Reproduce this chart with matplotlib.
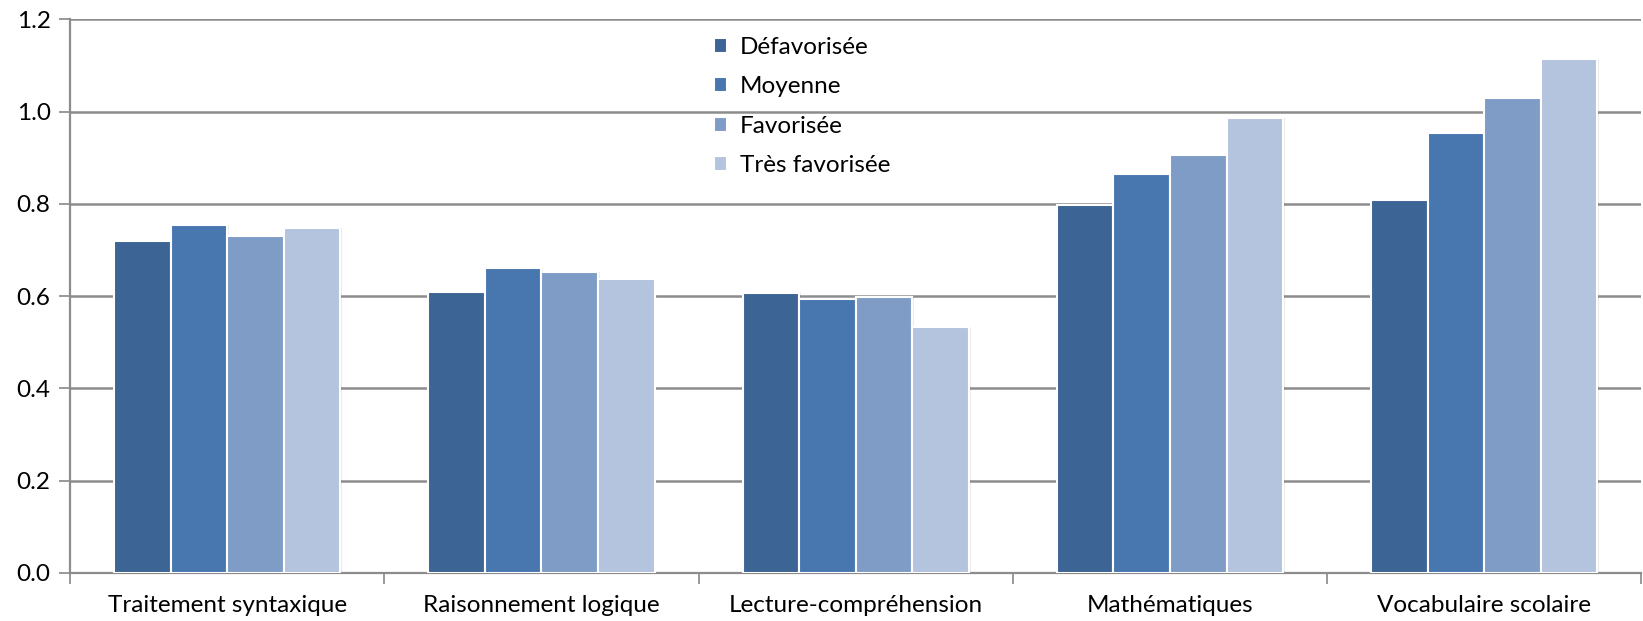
import matplotlib
matplotlib.use("Agg")
from matplotlib import pyplot as plt
import numpy as np

categories = ["Traitement syntaxique", "Raisonnement logique", "Lecture-compréhension",
              "Mathématiques", "Vocabulaire scolaire"]
series_names = ["Défavorisée", "Moyenne", "Favorisée", "Très favorisée"]
defavorisee = [0.720, 0.610, 0.608, 0.798, 0.809]
moyenne = [0.755, 0.661, 0.594, 0.866, 0.953]
favorisee = [0.731, 0.653, 0.599, 0.906, 1.030]
tres_favorisee = [0.749, 0.637, 0.533, 0.987, 1.114]
y_ticks = [0.0, 0.2, 0.4, 0.6, 0.8, 1.0, 1.2]

colors = ["#3C6494", "#4877B0", "#7F9CC7", "#B4C3DE"]

plt.rcParams["font.family"] = ["Lato", "DejaVu Sans"]

fig = plt.figure(figsize=(16.43, 6.21), dpi=100)
ax = fig.add_axes([0.0426, 0.0773, 0.9564, 0.8913])

x = np.arange(len(categories))
bar_w = 0.18
all_series = [defavorisee, moyenne, favorisee, tres_favorisee]
for i, (vals, name) in enumerate(zip(all_series, series_names)):
    offs = (i - 1.5) * bar_w
    # soft shadow
    ax.bar(x + offs + 0.006, vals, width=bar_w, color="#000000", alpha=0.08,
           zorder=2, linewidth=0)
    ax.bar(x + offs, vals, width=bar_w, color=colors[i], edgecolor="white",
           linewidth=1.5, zorder=3, label=name)

ax.set_xlim(-0.5, len(categories) - 0.5)
ax.set_ylim(0, 1.2)
ax.set_yticks(y_ticks)
ax.set_yticklabels([f"{v:.1f}" for v in y_ticks], fontsize=17.5)

ax.set_xticks(x)
ax.set_xticklabels(categories, fontsize=17.5)
ax.tick_params(axis="x", length=0, pad=16)
ax.set_xticks(np.arange(-0.5, len(categories)), minor=True)
ax.tick_params(axis="x", which="minor", length=8, width=1.2, color="#888888")
ax.tick_params(axis="y", length=8, width=1.2, color="#888888", pad=6)

ax.yaxis.grid(True, color="#8c8c8c", linewidth=1.8, zorder=0)
ax.set_axisbelow(True)
for s in ["top", "right"]:
    ax.spines[s].set_visible(False)
for s in ["left", "bottom"]:
    ax.spines[s].set_color("#8c8c8c")
    ax.spines[s].set_linewidth(1.6)

leg = ax.legend(loc="upper left", bbox_to_anchor=(0.396, 1.008), frameon=False,
                fontsize=17.5, handlelength=0.55, handleheight=0.55,
                handletextpad=0.5, labelspacing=0.76)

fig.savefig("out.png", dpi=100)
